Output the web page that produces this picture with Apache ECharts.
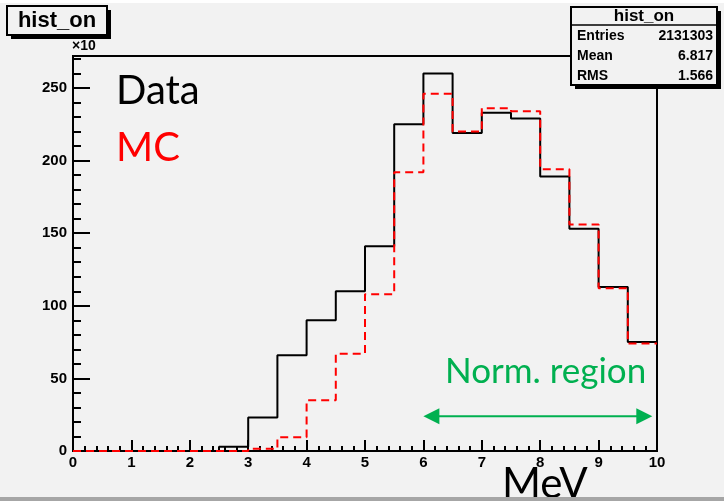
<!DOCTYPE html>
<html>
<head>
<meta charset="utf-8">
<script src="https://cdn.jsdelivr.net/npm/echarts@6/dist/echarts.min.js"></script>
<style>
  html, body { margin: 0; padding: 0; background: #f2f2f2; }
  #chart { width: 724px; height: 501px; }
</style>
</head>
<body>
<div id="chart"></div>
<script>
// Energy spectrum: 20 bins of 0.5 MeV from 0 to 10 MeV (counts in units of x10)
const binLow = [0, 0.5, 1, 1.5, 2, 2.5, 3, 3.5, 4, 4.5, 5, 5.5, 6, 6.5, 7, 7.5, 8, 8.5, 9, 9.5];
const binWidth = 0.5;
const dataCounts = [0, 0, 0, 0, 0, 3, 23, 66, 90, 110, 141, 225, 260, 219, 233, 229, 189, 153, 113, 75];
const mcCounts = [0, 0, 0, 0, 0, 0, 1.5, 9.5, 35, 67, 108, 192, 246, 220, 236, 234, 194, 156, 112, 74];

// Normalisation window (MeV) and the count level its arrow is drawn at
const normRange = [6.0, 9.92];
const normArrowLevel = 24;

// Statistics box
const statsTitle = 'hist_on';
const statsLabels = ['Entries', 'Mean', 'RMS'];
const statsValues = ['2131303', '6.817', '1.566'];

// Axis setup
const xMin = 0, xMax = 10, xStep = 1;
const yMin = 0, yMax = 272, yStep = 50;

const HELV = '"Liberation Sans", Arial, Helvetica, sans-serif';
const CAL = 'Lato, "Open Sans", sans-serif';
const GREEN = '#00b050';

// Turn bin contents into step-line points (left edge of each bin + closing right edge)
function stepPoints(counts) {
  const pts = binLow.map((x, i) => [x, counts[i]]);
  pts.push([binLow[binLow.length - 1] + binWidth, counts[counts.length - 1]]);
  return pts;
}

const chart = echarts.init(document.getElementById('chart'), null, { renderer: 'canvas' });

const statsGraphics = [];
const sx = 571, sy = 7, sw = 146, sh = 78;
statsGraphics.push({ type: 'rect', shape: { x: sx + 4, y: sy + 4, width: sw, height: sh }, style: { fill: '#000' }, z: 100 });
statsGraphics.push({ type: 'rect', shape: { x: sx, y: sy, width: sw, height: sh }, style: { fill: '#f2f2f2', stroke: '#000', lineWidth: 2 }, z: 101 });
statsGraphics.push({ type: 'line', shape: { x1: sx, y1: 25, x2: sx + sw, y2: 25 }, style: { stroke: '#000', lineWidth: 1.5 }, z: 102 });
statsGraphics.push({ type: 'text', x: sx + sw / 2, y: 16, z: 102,
  style: { text: statsTitle, font: 'bold 17px ' + HELV, fill: '#000', align: 'center', verticalAlign: 'middle' } });
statsLabels.forEach((lab, i) => {
  const yy = 36 + i * 20;
  statsGraphics.push({ type: 'text', x: 577, y: yy, z: 102,
    style: { text: lab, font: 'bold 14px ' + HELV, fill: '#000', align: 'left', verticalAlign: 'middle' } });
  statsGraphics.push({ type: 'text', x: 713, y: yy, z: 102,
    style: { text: statsValues[i], font: 'bold 14px ' + HELV, fill: '#000', align: 'right', verticalAlign: 'middle' } });
});

const baseGraphics = [
  // top light strip and bottom shaded edge of the canvas
  { type: 'rect', shape: { x: 0, y: 0, width: 724, height: 3 }, style: { fill: '#ffffff' }, z: 1 },
  { type: 'rect', shape: { x: 0, y: 497, width: 724, height: 4 }, style: { fill: '#a6a6a6' }, z: 110 },
  // title box
  { type: 'rect', shape: { x: 11, y: 10, width: 100, height: 29 }, style: { fill: '#000' }, z: 100 },
  { type: 'rect', shape: { x: 7, y: 6, width: 100, height: 29 }, style: { fill: '#f2f2f2', stroke: '#000', lineWidth: 2 }, z: 101 },
  { type: 'text', x: 57, y: 21, z: 102,
    style: { text: 'hist_on', font: 'bold 22px ' + HELV, fill: '#000', align: 'center', verticalAlign: 'middle' } },
  // axis exponent
  { type: 'text', x: 72, y: 46, z: 50,
    style: { text: '×10', font: 'bold 14px ' + HELV, fill: '#000', align: 'left', verticalAlign: 'middle' } },
  // annotations
  { type: 'text', x: 116, y: 91, z: 50,
    style: { text: 'Data', font: '40px ' + CAL, fill: '#000', align: 'left', verticalAlign: 'middle' } },
  { type: 'text', x: 116, y: 148, z: 50,
    style: { text: 'MC', font: '40px ' + CAL, fill: '#ff0000', align: 'left', verticalAlign: 'middle' } },
  { type: 'text', x: 445, y: 372, z: 50,
    style: { text: 'Norm. region', font: '35px ' + CAL, fill: GREEN, align: 'left', verticalAlign: 'middle' } },
  { type: 'text', x: 502, y: 484, z: 50,
    style: { text: 'MeV', font: '42px ' + CAL, fill: '#000', align: 'left', verticalAlign: 'middle' } }
];

const option = {
  backgroundColor: '#f2f2f2',
  animation: false,
  grid: {
    left: 73, right: 67, top: 56, bottom: 50,
    show: true, borderColor: '#000', borderWidth: 2, backgroundColor: 'transparent'
  },
  xAxis: {
    type: 'value', min: xMin, max: xMax, interval: xStep,
    axisLine: { show: true, onZero: false, lineStyle: { color: '#000', width: 2 } },
    axisTick: { show: true, inside: true, length: 11, lineStyle: { color: '#000', width: 2 } },
    minorTick: { show: true, splitNumber: 5, length: 5, lineStyle: { color: '#000', width: 2 } },
    splitLine: { show: false },
    axisLabel: { color: '#000', fontFamily: HELV, fontWeight: 'bold', fontSize: 15, margin: 4 }
  },
  yAxis: {
    type: 'value', min: yMin, max: yMax, interval: yStep,
    axisLine: { show: true, lineStyle: { color: '#000', width: 2 } },
    axisTick: { show: true, inside: true, length: 17, lineStyle: { color: '#000', width: 2 } },
    minorTick: { show: true, splitNumber: 5, length: 8, lineStyle: { color: '#000', width: 2 } },
    splitLine: { show: false },
    axisLabel: { color: '#000', fontFamily: HELV, fontWeight: 'bold', fontSize: 15, margin: 6, showMaxLabel: false }
  },
  series: [
    {
      name: 'Data', type: 'line', step: 'end', data: stepPoints(dataCounts),
      showSymbol: false, clip: false, z: 3,
      lineStyle: { color: '#000', width: 2 }
    },
    {
      name: 'MC', type: 'line', step: 'end', data: stepPoints(mcCounts),
      showSymbol: false, clip: false, z: 4,
      lineStyle: { color: '#ff0000', width: 2, type: [8, 5] }
    }
  ],
  graphic: baseGraphics.concat(statsGraphics)
};

chart.setOption(option);

// Double-headed arrow spanning the normalisation window, placed through the axis scales
const pL = chart.convertToPixel({ gridIndex: 0 }, [normRange[0], normArrowLevel]);
const pR = chart.convertToPixel({ gridIndex: 0 }, [normRange[1], normArrowLevel]);
const headLen = 16, headHalf = 8;
chart.setOption({
  graphic: baseGraphics.concat(statsGraphics, [
    { type: 'line', z: 60, shape: { x1: pL[0] + headLen - 2, y1: pL[1], x2: pR[0] - headLen + 2, y2: pR[1] },
      style: { stroke: GREEN, lineWidth: 2 } },
    { type: 'polygon', z: 60, shape: { points: [[pL[0], pL[1]], [pL[0] + headLen, pL[1] - headHalf], [pL[0] + headLen, pL[1] + headHalf]] },
      style: { fill: GREEN } },
    { type: 'polygon', z: 60, shape: { points: [[pR[0], pR[1]], [pR[0] - headLen, pR[1] - headHalf], [pR[0] - headLen, pR[1] + headHalf]] },
      style: { fill: GREEN } }
  ])
}, { replaceMerge: ['graphic'] });
</script>
</body>
</html>
